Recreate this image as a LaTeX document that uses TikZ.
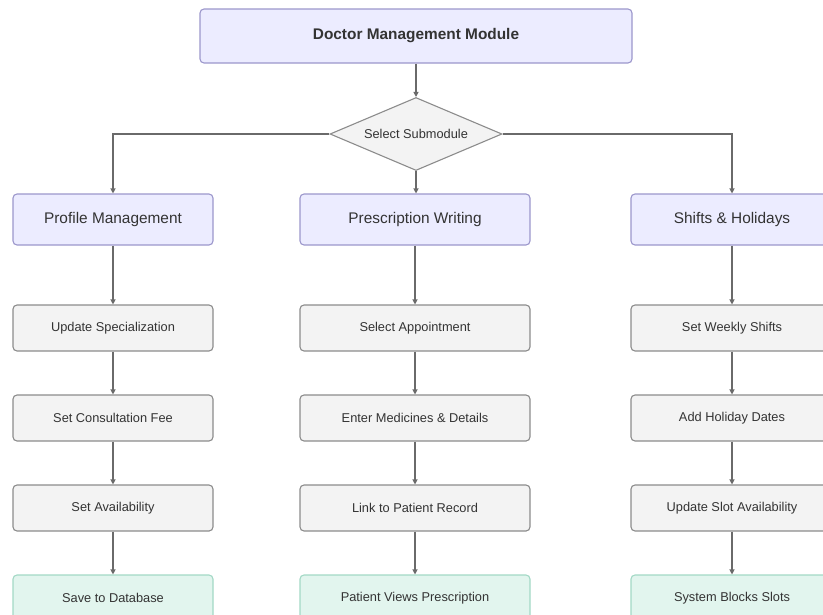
\documentclass[tikz,border=0pt]{standalone}
\usepackage{fontspec}
\setmainfont{Liberation Sans}
\usetikzlibrary{shapes.geometric,arrows.meta}
\definecolor{txt}{HTML}{333333}
\definecolor{pfill}{HTML}{ECECFF}
\definecolor{pdraw}{HTML}{9C97CC}
\definecolor{gfill}{HTML}{F3F3F3}
\definecolor{gdraw}{HTML}{8C8C8C}
\definecolor{tfill}{HTML}{E2F5EE}
\definecolor{tdraw}{HTML}{A3D9C6}
\definecolor{edge}{HTML}{6A6A6A}
\tikzset{
  box/.style={rectangle, rounded corners=4pt, line width=1.1pt, inner sep=0pt, text=txt, align=center},
  headbox/.style={box, fill=pfill, draw=pdraw, font=\fontsize{15.4}{18}\selectfont},
  topbox/.style={box, fill=pfill, draw=pdraw, font=\fontsize{15.4}{18}\selectfont\bfseries},
  stepbox/.style={box, fill=gfill, draw=gdraw, font=\fontsize{12.8}{15}\selectfont},
  endbox/.style={box, fill=tfill, draw=tdraw, font=\fontsize{12.8}{15}\selectfont},
  decide/.style={diamond, aspect=2.36, inner sep=0pt, minimum width=172pt, minimum height=73pt, fill=gfill, draw=gdraw, line width=1.1pt, text=txt, font=\fontsize{12.8}{15}\selectfont},
  conn/.style={draw=edge, line width=1.1pt, -{Triangle[length=5pt,width=5pt]}},
}
\begin{document}
\begin{tikzpicture}[x=1pt,y=-1pt]
\useasboundingbox[fill=white] (0,0) rectangle (823,614);
\clip (0,0) rectangle (823,614);
% top
\node[topbox, minimum width=432pt, minimum height=54pt] (top) at (416,36) {Doctor Management Module};
\node[decide] (sel) at (416,134) {Select Submodule};
% left column
\node[headbox, minimum width=200pt, minimum height=51pt] (pm) at (113,219.5) {Profile Management};
\node[stepbox, minimum width=200pt, minimum height=46pt] (l1) at (113,328) {Update Specialization};
\node[stepbox, minimum width=200pt, minimum height=46pt] (l2) at (113,418) {Set Consultation Fee};
\node[stepbox, minimum width=200pt, minimum height=46pt] (l3) at (113,508) {Set Availability};
\node[endbox, minimum width=200pt, minimum height=46pt] (l4) at (113,598) {Save to Database};
% middle column
\node[headbox, minimum width=230pt, minimum height=51pt] (pw) at (415,219.5) {Prescription Writing};
\node[stepbox, minimum width=230pt, minimum height=46pt] (m1) at (415,328) {Select Appointment};
\node[stepbox, minimum width=230pt, minimum height=46pt] (m2) at (415,418) {Enter Medicines \& Details};
\node[stepbox, minimum width=230pt, minimum height=46pt] (m3) at (415,508) {Link to Patient Record};
\node[endbox, minimum width=230pt, minimum height=46pt] (m4) at (415,598) {Patient Views Prescription};
% right column
\node[headbox, minimum width=202pt, minimum height=51pt] (sh) at (732,219.5) {Shifts \& Holidays};
\node[stepbox, minimum width=202pt, minimum height=46pt] (r1) at (732,328) {Set Weekly Shifts};
\node[stepbox, minimum width=202pt, minimum height=46pt] (r2) at (732,418) {Add Holiday Dates};
\node[stepbox, minimum width=202pt, minimum height=46pt] (r3) at (732,508) {Update Slot Availability};
\node[endbox, minimum width=202pt, minimum height=46pt] (r4) at (732,598) {System Blocks Slots};
% connectors
\draw[conn] (top) -- (sel);
\draw[conn] (sel.west) -| (pm.north);
\draw[conn] (sel.south) -- (sel.south |- pw.north);
\draw[conn] (sel.east) -| (sh.north);
\draw[conn] (pm) -- (l1);
\draw[conn] (l1) -- (l2);
\draw[conn] (l2) -- (l3);
\draw[conn] (l3) -- (l4);
\draw[conn] (pw) -- (m1);
\draw[conn] (m1) -- (m2);
\draw[conn] (m2) -- (m3);
\draw[conn] (m3) -- (m4);
\draw[conn] (sh) -- (r1);
\draw[conn] (r1) -- (r2);
\draw[conn] (r2) -- (r3);
\draw[conn] (r3) -- (r4);
\end{tikzpicture}
\end{document}
